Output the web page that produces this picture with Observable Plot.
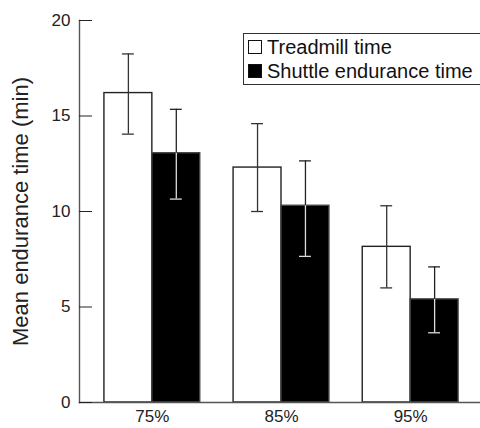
<!DOCTYPE html>
<html>
<head>
<meta charset="utf-8">
<script src="https://cdn.jsdelivr.net/npm/d3@7"></script>
<script src="https://cdn.jsdelivr.net/npm/@observablehq/plot@0.6"></script>
<style>
  html, body { margin: 0; padding: 0; background: #fff; }
  #wrap { position: relative; width: 480px; height: 428px; overflow: hidden; font-family: "Liberation Sans", Arial, Helvetica, sans-serif; }
  #legend { position: absolute; left: 243px; top: 33px; width: 270px; height: 50px; border: 1px solid #333; border-right: none; background: #fff; color: #111; font-size: 20px; }
  .row { position: absolute; left: 0; height: 24px; display: flex; align-items: center; white-space: nowrap; }
  .sw { width: 14px; height: 14px; box-sizing: border-box; border: 1.3px solid #111; margin: 0 5px 0 4px; }
</style>
</head>
<body>
<div id="wrap"></div>
<script>
const groups = ["75%", "85%", "95%"];
const seriesNames = ["Treadmill time", "Shuttle endurance time"];
const treadmillMean = [16.2, 12.3, 8.15];
const treadmillLow = [14.05, 10.0, 6.0];
const treadmillHigh = [18.25, 14.6, 10.3];
const shuttleMean = [13.05, 10.3, 5.4];
const shuttleLow = [10.65, 7.65, 3.65];
const shuttleHigh = [15.35, 12.65, 7.1];
const yTicks = [0, 5, 10, 15, 20];

const barW = 0.371, capW = 0.046;
const rows = [];
groups.forEach((g, i) => {
  rows.push({g, i, s: 0, x1: i - barW, x2: i, xc: i - barW / 2, mean: treadmillMean[i], low: treadmillLow[i], high: treadmillHigh[i]});
  rows.push({g, i, s: 1, x1: i, x2: i + barW, xc: i + barW / 2, mean: shuttleMean[i], low: shuttleLow[i], high: shuttleHigh[i]});
});
const tread = rows.filter(d => d.s === 0);
const shut = rows.filter(d => d.s === 1);

const chart = Plot.plot({
  width: 480,
  height: 428,
  marginLeft: 79,
  marginRight: -3,
  marginTop: 20,
  marginBottom: 26,
  style: {fontFamily: "'Liberation Sans', Arial, Helvetica, sans-serif", fontSize: "17px", color: "#222", background: "#fff"},
  x: {type: "linear", domain: [-0.564, 2.564], axis: null},
  y: {domain: [0, 20], axis: null},
  marks: [
    Plot.rectY(tread, {x1: "x1", x2: "x2", y1: 0, y2: "mean", fill: "#fff", stroke: "#222", strokeWidth: 1.4}),
    Plot.rectY(shut, {x1: "x1", x2: "x2", y1: 0, y2: "mean", fill: "#000", stroke: "#444", strokeWidth: 1.4}),
    Plot.ruleX(tread, {x: "xc", y1: "low", y2: "high", stroke: "#333", strokeWidth: 1.3}),
    Plot.ruleX(shut, {x: "xc", y1: "mean", y2: "high", stroke: "#222", strokeWidth: 1.3}),
    Plot.ruleX(shut, {x: "xc", y1: "low", y2: "mean", stroke: "#ddd", strokeWidth: 1.3}),
    Plot.ruleY(tread, {y: "high", x1: d => d.xc - capW, x2: d => d.xc + capW, stroke: "#333", strokeWidth: 1.3}),
    Plot.ruleY(tread, {y: "low", x1: d => d.xc - capW, x2: d => d.xc + capW, stroke: "#333", strokeWidth: 1.3}),
    Plot.ruleY(shut, {y: "high", x1: d => d.xc - capW, x2: d => d.xc + capW, stroke: "#222", strokeWidth: 1.3}),
    Plot.ruleY(shut, {y: "low", x1: d => d.xc - capW, x2: d => d.xc + capW, stroke: "#ddd", strokeWidth: 1.3}),
    Plot.frame({anchor: "left", stroke: "#555", strokeWidth: 1.4}),
    Plot.frame({anchor: "bottom", stroke: "#555", strokeWidth: 1.4}),
    Plot.axisY({ticks: yTicks, tickSize: -13, tickPadding: 22, stroke: "#222", fontSize: 17,
      label: "Mean endurance time (min)", labelAnchor: "center", labelOffset: 67, labelArrow: "none"}),
    Plot.axisX({ticks: [0, 1, 2], tickFormat: i => groups[i], tickSize: 0, tickPadding: 7, fontSize: 17, label: null})
  ]
});

const wrap = document.getElementById("wrap");
wrap.appendChild(chart);
chart.querySelectorAll("g[aria-label='y-axis label'] text, g[aria-label='y-axis label']").forEach(el => el.setAttribute("font-size", "22"));

const legend = document.createElement("div");
legend.id = "legend";
legend.innerHTML = seriesNames.map((n, k) =>
  `<div class="row" style="top:${1 + k * 24}px"><div class="sw" style="background:${k ? "#000" : "#fff"}"></div><span>${n}</span></div>`
).join("");
wrap.appendChild(legend);
</script>
</body>
</html>
